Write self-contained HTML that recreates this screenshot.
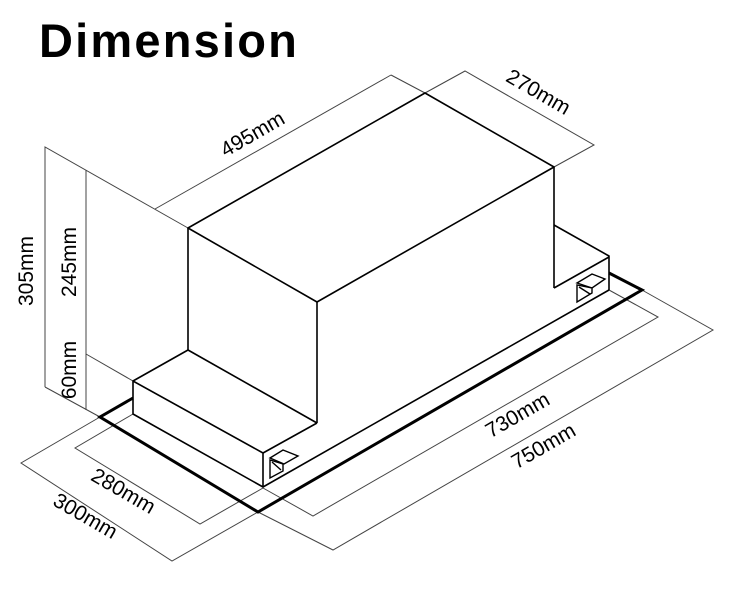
<!DOCTYPE html>
<html><head><meta charset="utf-8"><style>
html,body{margin:0;padding:0;background:#fff;}
svg{display:block;}
text{font-family:"Liberation Sans",sans-serif;}
.l{font-family:"DejaVu Sans","Liberation Sans",sans-serif;font-size:21px;fill:#000;}
</style></head><body>
<svg width="737" height="601" viewBox="0 0 737 601" xmlns="http://www.w3.org/2000/svg">
<rect width="737" height="601" fill="#fff"/>
<text x="39" y="57" font-size="47" font-weight="bold" letter-spacing="2.2" fill="#000">Dimension</text>
<g fill="none" stroke="#444" stroke-width="1">
<polyline points="45,387 45,147 188,228"/>
<line x1="86" y1="170" x2="86" y2="410"/>
<line x1="86" y1="354" x2="133" y2="381"/>
<line x1="45" y1="387" x2="100" y2="417"/>
<line x1="155" y1="209" x2="391" y2="75"/>
<line x1="391" y1="75" x2="425" y2="93"/>
<polyline points="425,93 465,71 594,145 554,167"/>
<polyline points="133,414 75,448 200,524 263,488"/>
<polyline points="100,417 21,463 172,561 258,512"/>
<polyline points="609,290 658,317 313,516 263,488"/>
<polyline points="642,290 713,330 333,550 258,512"/>
</g>
<g fill="none" stroke="#000" stroke-width="1.6" stroke-linejoin="round">
<polygon points="188,228 425,93 554,167 317,302"/>
<line x1="188" y1="228" x2="188" y2="350"/>
<line x1="317" y1="302" x2="317" y2="423"/>
<line x1="554" y1="167" x2="554" y2="288"/>
<polyline points="188,350 133,381 133,414 263,487 263,453 133,381"/>
<line x1="188" y1="350" x2="317" y2="423"/>
<line x1="317" y1="423" x2="263" y2="453"/>
<polyline points="554,225 609,256 609,290"/>
<line x1="554" y1="288" x2="609" y2="257"/>
<line x1="609" y1="290" x2="263" y2="487"/>
</g>
<g fill="none" stroke="#000" stroke-width="3">
<polyline points="133,398 100,417 258,512 642,290 609,273"/>
</g>
<g fill="none" stroke="#000" stroke-width="1.4">
<polygon points="270,458 283,450 298,456 284,464"/>
<polygon points="270,460 270,478 283,471 283,464"/>
<line x1="272" y1="462" x2="281" y2="470"/>
<polygon points="577,283 592,274 605,279 592,288"/>
<polygon points="577,285 577,302 592,293 592,288"/>
<line x1="579" y1="287" x2="590" y2="294"/>
</g>
<g class="l">
<text transform="translate(256,140) rotate(-30)" text-anchor="middle">495mm</text>
<text transform="translate(535,98) rotate(30)" text-anchor="middle">270mm</text>
<text transform="translate(33,271) rotate(-90)" text-anchor="middle">305mm</text>
<text transform="translate(76,262) rotate(-90)" text-anchor="middle">245mm</text>
<text transform="translate(76,370) rotate(-90)" text-anchor="middle">60mm</text>
<text transform="translate(120,497) rotate(30)" text-anchor="middle">280mm</text>
<text transform="translate(82,522) rotate(30)" text-anchor="middle">300mm</text>
<text transform="translate(521,421) rotate(-30)" text-anchor="middle">730mm</text>
<text transform="translate(547,452) rotate(-30)" text-anchor="middle">750mm</text>
</g>
</svg>
</body></html>
